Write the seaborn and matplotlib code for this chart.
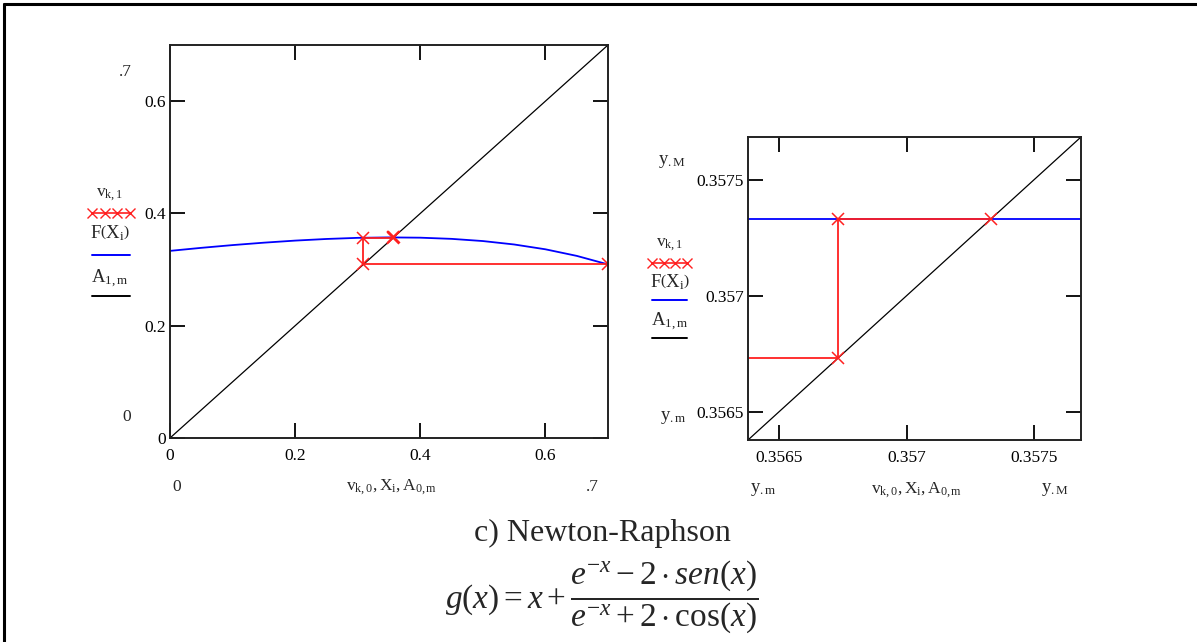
import matplotlib
matplotlib.use("Agg")
import matplotlib.pyplot as plt
import seaborn as sns
from matplotlib.lines import Line2D

# F(X_i)
X = [0.0, 0.05, 0.1, 0.15, 0.2, 0.25, 0.3, 0.35, 0.4, 0.45, 0.5, 0.55, 0.6, 0.65, 0.7]
F = [0.3333, 0.3387, 0.3436, 0.3479, 0.3516, 0.3545, 0.3565, 0.3573, 0.3568, 0.3547,
     0.3508, 0.3447, 0.3361, 0.3244, 0.3092]
# F(X_i) inside the zoom window (flat at the root)
X_zoom = [0.3563, 0.3578]
F_zoom = [0.35733, 0.35733]
# iteration path v_k
v_x = [0.7, 0.3092, 0.3092, 0.35673, 0.35673, 0.35733]
v_y = [0.3092, 0.3092, 0.35673, 0.35673, 0.35733, 0.35733]
# identity line A
A = [0.0, 0.7]

ticks_left = [0, 0.2, 0.4, 0.6]
ticks_left_lbl = ["0", "0.2", "0.4", "0.6"]
ticks_right = [0.3565, 0.357, 0.3575]
ticks_right_lbl = ["0.3565", "0.357", "0.3575"]
y_m, y_M = 0.356377, 0.357685

sns.set_style("white")
plt.rcParams["font.family"] = ["Liberation Serif", "DejaVu Serif"]
plt.rcParams["mathtext.fontset"] = "custom"
plt.rcParams["mathtext.rm"] = "Liberation Serif"
plt.rcParams["mathtext.it"] = "Liberation Serif:italic"
plt.rcParams["mathtext.bf"] = "Liberation Serif:bold"

W, H = 1197, 642
fig = plt.figure(figsize=(W / 100, H / 100), dpi=100)


def fx(px):
    return px / W


def fy(py):
    return 1 - py / H


def style(ax, ticks, labels):
    ax.set_xticks(ticks)
    ax.set_xticklabels(labels)
    ax.set_yticks(ticks)
    ax.set_yticklabels(labels)
    ax.tick_params(direction="in", length=11, width=1.3, top=True, right=True,
                   bottom=True, left=True, labelsize=12.5, colors="black")
    ax.tick_params(axis="x", pad=7)
    ax.tick_params(axis="y", pad=3)
    for s in ax.spines.values():
        s.set_color("#222222")
        s.set_linewidth(1.4)


def draw(ax, fx_, fy_):
    sns.lineplot(x=A, y=A, ax=ax, color="black", lw=0.9, estimator=None, sort=False)
    sns.lineplot(x=fx_, y=fy_, ax=ax, color="#0000ff", lw=1.3, estimator=None, sort=False)
    sns.lineplot(x=v_x, y=v_y, ax=ax, color="#ff2020", lw=1.3, estimator=None, sort=False,
                 marker="x", markersize=9, markeredgewidth=1.1, markeredgecolor="#ff2020")


# left plot
ax1 = fig.add_axes([fx(170), fy(438), fx(608) - fx(170), fy(45) - fy(438)])
draw(ax1, X, F)
ax1.set_xlim(0, 0.7)
ax1.set_ylim(0, 0.7)
style(ax1, ticks_left, ticks_left_lbl)

# right plot (zoom)
ax2 = fig.add_axes([fx(748), fy(440), fx(1081) - fx(748), fy(137) - fy(440)])
draw(ax2, X_zoom, F_zoom)
ax2.set_xlim(y_m, y_M)
ax2.set_ylim(y_m, y_M)
style(ax2, ticks_right, ticks_right_lbl)

for a in (ax1, ax2):
    a.set_xlabel("")
    a.set_ylabel("")

# Mathcad-like limit and axis labels
fs = 12.5
xlab = r"$\mathrm{v}_{\mathrm{k,0}},\mathrm{X}_{\mathrm{i}},\mathrm{A}_{\mathrm{0,m}}$"
fig.text(fx(125), fy(72), ".7", fontsize=fs, ha="center", va="center")
fig.text(fx(127), fy(417), "0", fontsize=fs, ha="center", va="center")
fig.text(fx(177), fy(487), "0", fontsize=fs, ha="center", va="center")
fig.text(fx(592), fy(487), ".7", fontsize=fs, ha="center", va="center")
fig.text(fx(392), fy(487), xlab, fontsize=fs, ha="center", va="center")

fig.text(fx(672), fy(162), r"$\mathrm{y}_{.\mathrm{M}}$", fontsize=fs + 1, ha="center", va="center")
fig.text(fx(673), fy(418), r"$\mathrm{y}_{.\mathrm{m}}$", fontsize=fs + 1, ha="center", va="center")
fig.text(fx(763), fy(490), r"$\mathrm{y}_{.\mathrm{m}}$", fontsize=fs + 1, ha="center", va="center")
fig.text(fx(1055), fy(490), r"$\mathrm{y}_{.\mathrm{M}}$", fontsize=fs + 1, ha="center", va="center")
fig.text(fx(917), fy(490), xlab, fontsize=fs, ha="center", va="center")

# legend blocks
def legend_block(cx, y_v, y_red, y_F, y_blue, y_A, y_black, x0, x1):
    fig.text(fx(cx), fy(y_v), r"$\mathrm{v}_{\mathrm{k,1}}$", fontsize=fs, ha="center", va="center")
    fig.text(fx(cx), fy(y_F), r"$\mathrm{F}\left(\mathrm{X}_{\mathrm{i}}\right)$", fontsize=fs + 1, ha="center", va="center")
    fig.text(fx(cx), fy(y_A), r"$\mathrm{A}_{\mathrm{1,m}}$", fontsize=fs + 1, ha="center", va="center")
    xs = [fx(x0 + i * (x1 - x0) / 3) for i in range(4)]
    fig.add_artist(Line2D(xs, [fy(y_red)] * 4, color="#ff2020", lw=1.2, marker="x",
                          markersize=7, markeredgewidth=1.0))
    fig.add_artist(Line2D([fx(x0), fx(x1)], [fy(y_blue)] * 2, color="#0000ff", lw=1.4))
    fig.add_artist(Line2D([fx(x0), fx(x1)], [fy(y_black)] * 2, color="black", lw=1.4))


legend_block(110, 195, 213, 233, 255, 279, 296, 92, 130)
legend_block(670, 245, 263, 282, 300, 322, 338, 652, 687)

# caption
fig.text(fx(602), fy(533), "c) Newton-Raphson", fontsize=23, ha="center", va="center")
fig.text(fx(602), fy(597),
         r"$g(x)=x+\dfrac{e^{-x}-2\cdot sen(x)}{e^{-x}+2\cdot \mathrm{cos}(x)}$",
         fontsize=24, ha="center", va="center")

# outer frame (top and left edges)
fig.add_artist(Line2D([fx(4), fx(4)], [fy(4), 0], color="black", lw=2.2))
fig.add_artist(Line2D([fx(4), 1], [fy(4), fy(4)], color="black", lw=2.2))

fig.savefig("out.png", dpi=100)
